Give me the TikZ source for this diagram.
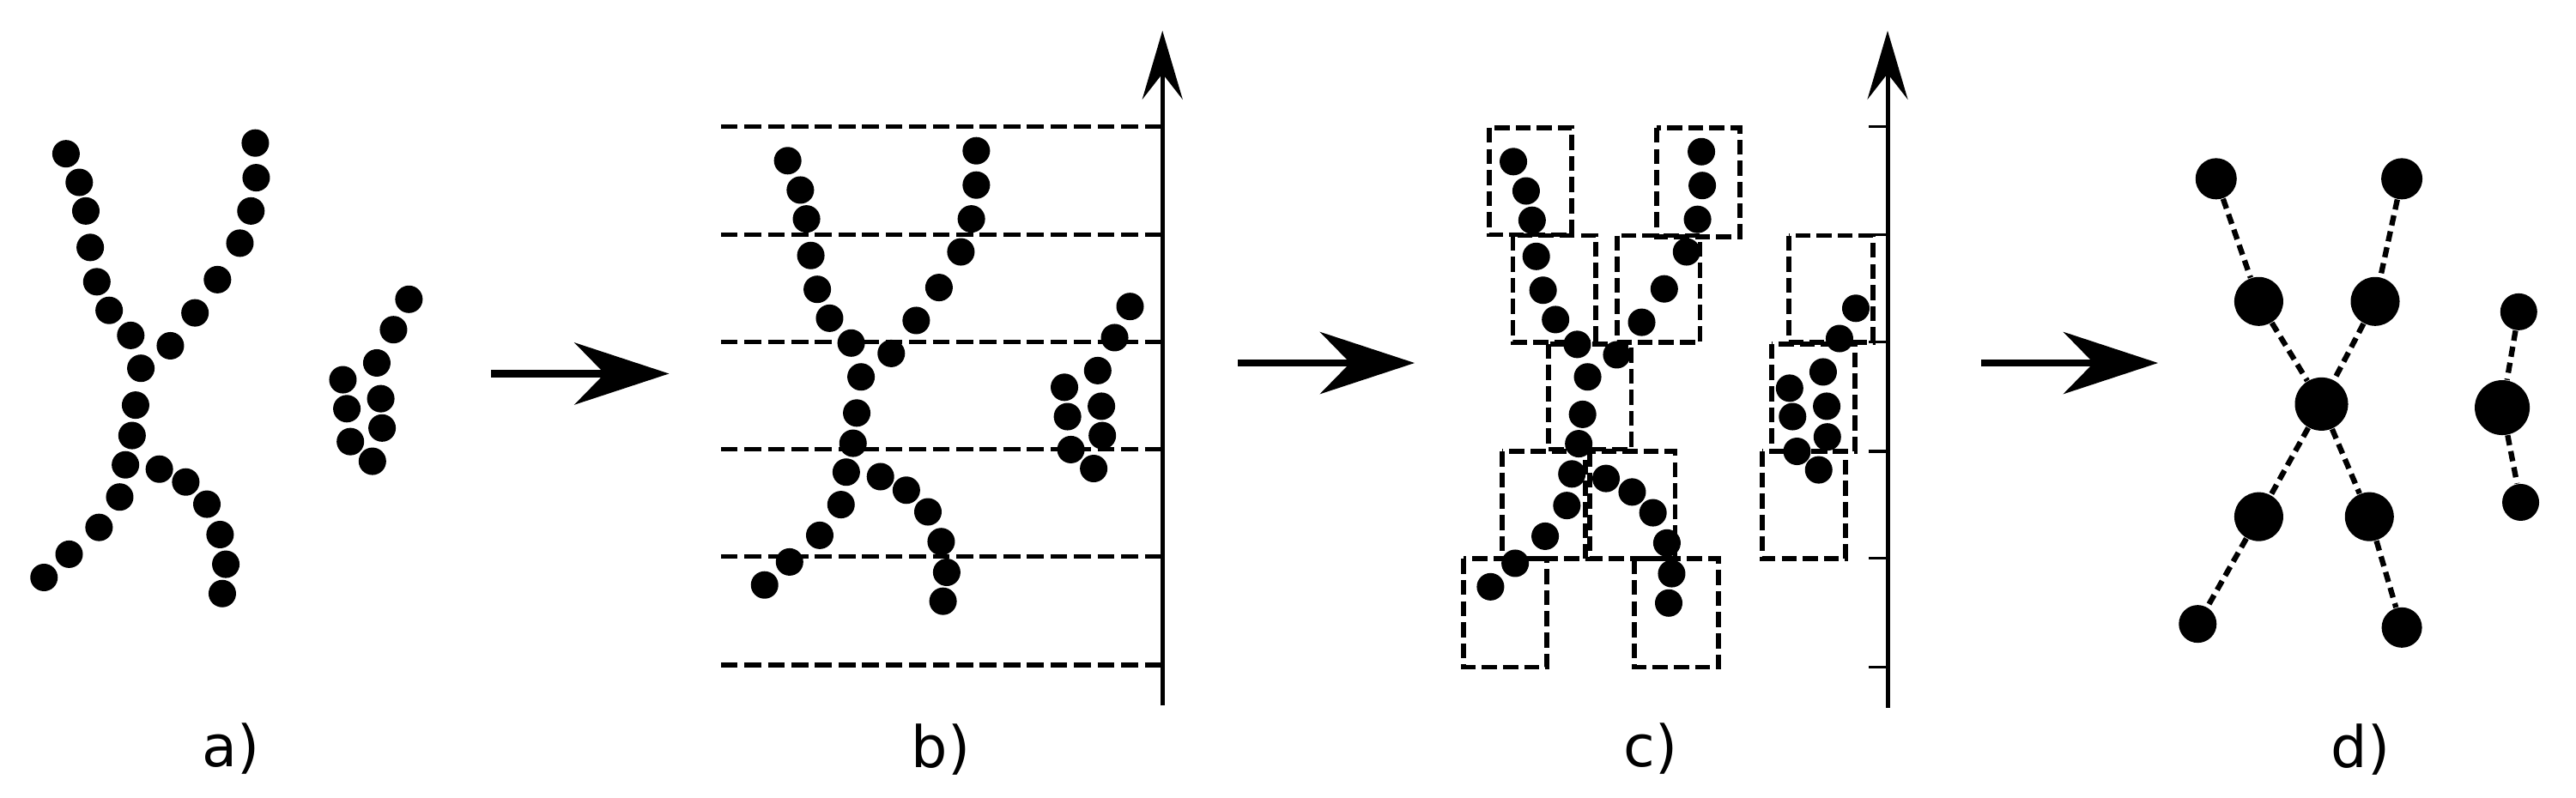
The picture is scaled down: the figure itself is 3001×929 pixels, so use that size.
\documentclass[tikz,border=0pt]{standalone}
\usepackage{fontspec}
\setmainfont{DejaVu Sans}
\usetikzlibrary{arrows.meta}
\begin{document}
\begin{tikzpicture}[x=0.01cm,y=-0.01cm,
  dot/.style={circle,fill=black,inner sep=0pt,minimum size=0.32cm},
  gdot/.style={circle,fill=black,inner sep=0pt,minimum size=#1},
  hline/.style={line width=1.5pt,dash pattern=on 5.6pt off 2.2pt},
  boxl/.style={line width=1.6pt,dash pattern=on 5pt off 2pt},
  axisl/.style={line width=1.4pt,-{Stealth[length=0.8cm,width=0.47cm,inset=0.3cm]}},
  bigarrow/.style={line width=2.3pt,-{Stealth[length=1.1cm,width=0.72cm,inset=0.35cm]}},
  edge/.style={line width=1.8pt,dash pattern=on 3.4pt off 2pt},
  lbl/.style={font=\fontsize{19}{22}\selectfont}]
\useasboundingbox (0,0) rectangle (3001,929);
% ---------- panel a ----------
\begin{scope}[shift={(0,100)},xscale=0.5128,yscale=0.4167]
\foreach \p [count=\i] in {(150,190),(180,270),(195,350),(205,452),(220,548),(248,628),(297,698),(320,790),(308,893),(300,978),(285,1060),(272,1150),(225,1235),(157,1310),(100,1375),
(580,160),(582,257),(570,350),(545,440),(494,542),(443,635),(387,727),
(362,1072),(422,1108),(470,1170),(500,1255),(513,1338),(505,1420),
(929,597),(894,682),(856,775),(779,822),(865,875),(788,903),(868,957),(796,995),(846,1050)}
  \node[dot] (a\i) at \p {};
\coordinate (ab1) at (1115,805);
\coordinate (ab2) at (1520,805);
\end{scope}
\draw[bigarrow] (ab1) -- (ab2);
% ---------- panel b ----------
\begin{scope}[shift={(820,20)},xscale=0.359,yscale=0.526]
\foreach \y [count=\i] in {242,482,720,957,1195,1435}{
  \coordinate (hl\i) at (55,\y);
  \coordinate (hr\i) at (1482,\y);
  \draw[hline] (hl\i) -- (hr\i);}
\coordinate (bax0) at (1488,1525);
\coordinate (bax1) at (1488,30);
\draw[axisl] (bax0) -- (bax1);
\foreach \p [count=\i] in {(272,318),(313,383),(333,447),(347,528),(368,603),(408,667),(478,722),(510,797),(496,877),(484,944),(462,1008),(445,1080),(376,1148),(278,1207),(197,1258),
(884,296),(884,372),(868,447),(834,520),(763,599),(689,672),(608,745),
(573,1018),(657,1048),(727,1096),(770,1162),(788,1230),(776,1294),
(1383,641),(1333,710),(1278,783),(1170,820),(1290,862),(1180,885),(1293,927),(1191,958),(1265,1000)}
  \node[dot] (b\i) at \p {};
\end{scope}
\coordinate (bc1) at (1442,423);
\coordinate (bc2) at (1648,423);
\draw[bigarrow] (bc1) -- (bc2);
% ---------- panel c ----------
\begin{scope}[shift={(1680,20)},xscale=0.346,yscale=0.526]
\coordinate (cax0) at (1500,1530);
\coordinate (cax1) at (1500,30);
\draw[axisl] (cax0) -- (cax1);
\foreach \y [count=\i] in {242,482,720,962,1198,1440}{
  \coordinate (tk\i) at (1437,\y);
  \coordinate (tq\i) at (1500,\y);
  \draw[line width=0.9pt] (tk\i) -- (tq\i);}
\foreach \a/\b/\c/\d [count=\i] in {158/245/437/482, 722/245/1002/487, 238/484/517/720, 590/484/868/720, 358/724/637/957, 203/962/483/1200, 497/962/785/1200, 72/1200/352/1440, 647/1200/930/1440, 1168/484/1450/720, 1110/724/1390/962, 1078/962/1358/1200}{
  \coordinate (cb\i) at (\a,\b);
  \coordinate (ce\i) at (\c,\d);
  \draw[boxl] (cb\i) rectangle (ce\i);}
\foreach \p [count=\i] in {(240,320),(283,385),(303,450),(317,530),(340,605),(382,670),(455,725),(490,797),(473,880),(460,945),(437,1012),(420,1082),(347,1150),(246,1210),(163,1262),
(873,298),(876,373),(860,448),(823,520),(748,602),(672,676),(588,748),
(552,1022),(640,1052),(710,1098),(757,1165),(773,1233),(763,1298),
(1393,645),(1338,712),(1283,786),(1170,822),(1295,862),(1180,885),(1297,930),(1195,962),(1268,1003)}
  \node[dot] (c\i) at \p {};
\end{scope}
\coordinate (cd1) at (2308,423);
\coordinate (cd2) at (2514,423);
\draw[bigarrow] (cd1) -- (cd2);
% ---------- panel d ----------
\begin{scope}[shift={(2500,150)},xscale=0.3205,yscale=0.4167]
\node[gdot=0.48cm] (tl) at (255,140) {};
\node[gdot=0.48cm] (tr) at (930,140) {};
\node[gdot=0.57cm] (ml) at (410,483) {};
\node[gdot=0.57cm] (mr) at (833,483) {};
\node[gdot=0.62cm] (ce) at (638,770) {};
\node[gdot=0.57cm] (ll) at (410,1085) {};
\node[gdot=0.57cm] (lr) at (812,1085) {};
\node[gdot=0.44cm] (bl) at (188,1385) {};
\node[gdot=0.47cm] (br) at (930,1395) {};
\node[gdot=0.43cm] (rt) at (1355,512) {};
\node[gdot=0.64cm] (rm) at (1295,780) {};
\node[gdot=0.43cm] (rb) at (1362,1045) {};
\end{scope}
\foreach \u/\v in {tl/ml,ml/ce,tr/mr,mr/ce,ce/ll,ll/bl,ce/lr,lr/br,rt/rm,rm/rb}
  \draw[edge] (\u) -- (\v);
% ---------- labels ----------
\node[lbl] (la) at (269,873) {a)};
\node[lbl] (lb) at (1096,873) {b)};
\node[lbl] (lc) at (1923,873) {c)};
\node[lbl] (ld) at (2750,873) {d)};
\end{tikzpicture}
\end{document}
